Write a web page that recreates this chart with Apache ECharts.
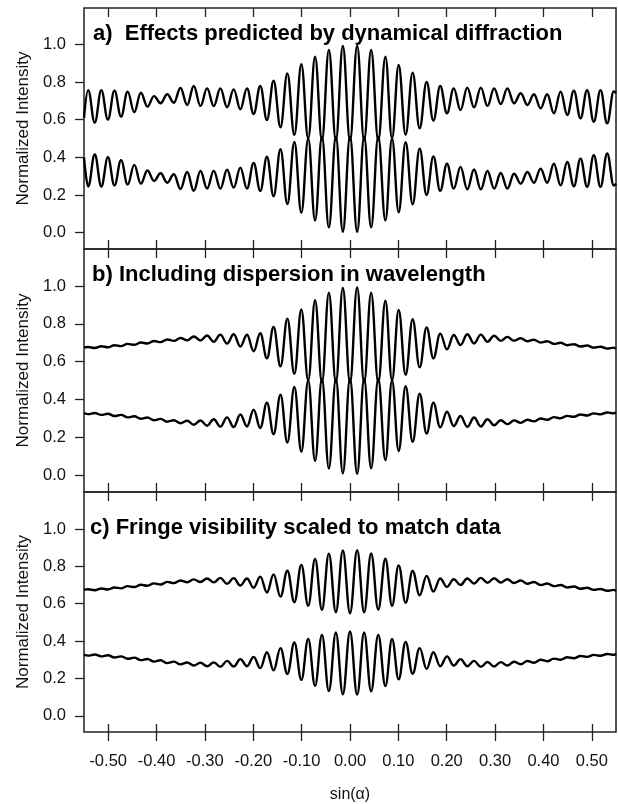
<!DOCTYPE html>
<html>
<head>
<meta charset="utf-8">
<script src="https://cdn.jsdelivr.net/npm/echarts@6/dist/echarts.min.js"></script>
<style>
html,body{margin:0;padding:0;background:#fff;}
#chart{width:618px;height:804px;}
</style>
</head>
<body>
<div id="chart"></div>
<script>
// Positions of the fringe extrema (peaks/troughs), sin(alpha)
const fringeX = [-0.55, -0.5414, -0.5278, -0.5142, -0.5006, -0.487, -0.4734, -0.4598, -0.4461, -0.4325,
  -0.4189, -0.4053, -0.3916, -0.378, -0.3642, -0.3505, -0.3367, -0.323, -0.3092, -0.2955,
  -0.2817, -0.268, -0.2542, -0.2405, -0.2267, -0.213, -0.1992, -0.1855, -0.1717, -0.158,
  -0.1437, -0.1295, -0.115, -0.1006, -0.0864, -0.0722, -0.058, -0.0437, -0.0292, -0.0148,
  0,
  0.0148, 0.0292, 0.0437, 0.0584, 0.0732, 0.0869, 0.1006, 0.115, 0.1295, 0.144,
  0.1584, 0.1724, 0.1865, 0.2005, 0.2145, 0.2285, 0.2425, 0.2565, 0.2705, 0.2842,
  0.298, 0.3117, 0.3254, 0.3392, 0.353, 0.3667, 0.3804, 0.3941, 0.4078, 0.4216,
  0.4355, 0.4492, 0.4629, 0.4766, 0.4903, 0.5041, 0.518, 0.5317, 0.5454, 0.55];

// a) Effects predicted by dynamical diffraction
const upperA = [0.61, 0.757, 0.584, 0.757, 0.60, 0.754, 0.616, 0.749, 0.64, 0.743,
  0.669, 0.725, 0.687, 0.735, 0.69, 0.768, 0.678, 0.779, 0.673, 0.766,
  0.672, 0.766, 0.666, 0.761, 0.655, 0.766, 0.63, 0.779, 0.598, 0.807,
  0.56, 0.846, 0.519, 0.894, 0.50, 0.934, 0.49, 0.97, 0.49, 0.991,
  0.49,
  0.991, 0.49, 0.97, 0.49, 0.934, 0.50, 0.89, 0.52, 0.85, 0.554,
  0.80, 0.595, 0.779, 0.634, 0.766, 0.651, 0.77, 0.665, 0.77, 0.673,
  0.766, 0.683, 0.766, 0.687, 0.74, 0.678, 0.735, 0.66, 0.735, 0.634,
  0.749, 0.625, 0.754, 0.607, 0.757, 0.589, 0.757, 0.58, 0.75, 0.74];
const lowerA = [0.40, 0.245, 0.415, 0.245, 0.40, 0.25, 0.385, 0.255, 0.36, 0.26,
  0.33, 0.275, 0.315, 0.265, 0.31, 0.232, 0.322, 0.222, 0.327, 0.234,
  0.328, 0.234, 0.334, 0.239, 0.345, 0.234, 0.37, 0.221, 0.403, 0.193,
  0.443, 0.152, 0.481, 0.105, 0.50, 0.064, 0.51, 0.028, 0.51, 0.005,
  0.51,
  0.005, 0.51, 0.028, 0.51, 0.064, 0.50, 0.108, 0.48, 0.15, 0.446,
  0.20, 0.405, 0.222, 0.366, 0.234, 0.349, 0.23, 0.335, 0.23, 0.327,
  0.234, 0.317, 0.234, 0.313, 0.26, 0.322, 0.265, 0.34, 0.265, 0.366,
  0.251, 0.375, 0.246, 0.393, 0.243, 0.411, 0.243, 0.42, 0.25, 0.26];

// b) Including dispersion in wavelength
const upperB = [0.675, 0.677, 0.672, 0.681, 0.676, 0.687, 0.682, 0.694, 0.689, 0.701,
  0.696, 0.709, 0.703, 0.717, 0.71, 0.725, 0.713, 0.733, 0.712, 0.738,
  0.705, 0.743, 0.695, 0.745, 0.68, 0.742, 0.655, 0.75, 0.617, 0.783,
  0.575, 0.827, 0.535, 0.876, 0.50, 0.925, 0.49, 0.965, 0.49, 0.99,
  0.49,
  0.993, 0.49, 0.965, 0.49, 0.922, 0.50, 0.873, 0.53, 0.824, 0.57,
  0.781, 0.617, 0.748, 0.665, 0.741, 0.688, 0.745, 0.696, 0.743, 0.705,
  0.737, 0.71, 0.731, 0.711, 0.724, 0.708, 0.716, 0.701, 0.708, 0.694,
  0.70, 0.687, 0.692, 0.68, 0.685, 0.674, 0.679, 0.669, 0.674, 0.667];
const lowerB = [0.328, 0.322, 0.328, 0.318, 0.324, 0.312, 0.318, 0.305, 0.311, 0.298,
  0.304, 0.29, 0.297, 0.282, 0.29, 0.274, 0.287, 0.266, 0.288, 0.261,
  0.295, 0.256, 0.305, 0.254, 0.32, 0.257, 0.345, 0.249, 0.383, 0.216,
  0.425, 0.172, 0.466, 0.123, 0.50, 0.074, 0.51, 0.034, 0.51, 0.009,
  0.51,
  0.007, 0.51, 0.035, 0.51, 0.078, 0.50, 0.127, 0.47, 0.176, 0.43,
  0.219, 0.383, 0.252, 0.335, 0.259, 0.312, 0.255, 0.304, 0.257, 0.295,
  0.263, 0.29, 0.269, 0.289, 0.276, 0.292, 0.284, 0.299, 0.292, 0.306,
  0.30, 0.313, 0.308, 0.32, 0.315, 0.326, 0.321, 0.331, 0.326, 0.333];

// c) Fringe visibility scaled to match data
const upperC = [0.675, 0.677, 0.672, 0.681, 0.676, 0.687, 0.682, 0.694, 0.689, 0.701,
  0.696, 0.709, 0.703, 0.717, 0.71, 0.724, 0.715, 0.73, 0.716, 0.735,
  0.714, 0.738, 0.706, 0.737, 0.697, 0.735, 0.685, 0.745, 0.66, 0.757,
  0.638, 0.776, 0.608, 0.808, 0.589, 0.84, 0.567, 0.868, 0.554, 0.885,
  0.549,
  0.887, 0.554, 0.869, 0.568, 0.841, 0.589, 0.805, 0.605, 0.775, 0.645,
  0.749, 0.665, 0.735, 0.69, 0.731, 0.70, 0.735, 0.708, 0.738, 0.712,
  0.736, 0.713, 0.731, 0.711, 0.724, 0.707, 0.716, 0.70, 0.708, 0.694,
  0.70, 0.687, 0.692, 0.68, 0.685, 0.674, 0.679, 0.669, 0.674, 0.667];
const lowerC = [0.327, 0.322, 0.328, 0.318, 0.324, 0.312, 0.318, 0.305, 0.311, 0.298,
  0.304, 0.29, 0.297, 0.282, 0.29, 0.275, 0.285, 0.269, 0.284, 0.265,
  0.286, 0.262, 0.294, 0.263, 0.303, 0.265, 0.315, 0.255, 0.34, 0.243,
  0.362, 0.224, 0.392, 0.192, 0.411, 0.16, 0.433, 0.132, 0.446, 0.115,
  0.451,
  0.113, 0.446, 0.131, 0.432, 0.159, 0.411, 0.195, 0.395, 0.225, 0.362,
  0.251, 0.34, 0.265, 0.318, 0.269, 0.303, 0.265, 0.294, 0.262, 0.288,
  0.264, 0.287, 0.269, 0.289, 0.276, 0.293, 0.284, 0.30, 0.292, 0.306,
  0.30, 0.313, 0.308, 0.32, 0.315, 0.326, 0.321, 0.331, 0.326, 0.333];

const yTicks = [0, 0.2, 0.4, 0.6, 0.8, 1.0];
const xTicks = [-0.5, -0.4, -0.3, -0.2, -0.1, 0, 0.1, 0.2, 0.3, 0.4, 0.5];
const panelTitles = ['a)  Effects predicted by dynamical diffraction',
  'b) Including dispersion in wavelength',
  'c) Fringe visibility scaled to match data'];
const yName = 'Normalized Intensity';
const xName = 'sin(\u03b1)';

const FONT = '"Liberation Sans", Arial, Helvetica, sans-serif';
const INK = '#111';

const panels = [
  {top: 8, height: 241, yMin: -0.087, yMax: 1.193, titleX: 93, titleY: 34, up: upperA, low: lowerA},
  {top: 249, height: 243, yMin: -0.09, yMax: 1.196, titleX: 92, titleY: 275, up: upperB, low: lowerB},
  {top: 492, height: 242, yMin: -0.087, yMax: 1.198, titleX: 90, titleY: 528, up: upperC, low: lowerC}
];

const grids = [], xAxes = [], yAxes = [], series = [], graphics = [];
const tickStyle = {color: '#222', width: 1.3};
const noLine = {show: false, onZero: false};

panels.forEach((p, i) => {
  grids.push({left: 84, top: p.top, width: 532, height: p.height, show: true,
    borderColor: '#222', borderWidth: 1.5, backgroundColor: 'transparent', containLabel: false});
  const isLast = i === panels.length - 1;
  const bottomIdx = xAxes.length;
  xAxes.push({type: 'value', gridIndex: i, position: 'bottom', min: -0.55, max: 0.55,
    axisLine: noLine, splitLine: {show: false},
    axisTick: {show: true, inside: false, length: 9, lineStyle: tickStyle, customValues: xTicks},
    axisLabel: {show: isLast, customValues: xTicks, formatter: v => v.toFixed(2), fontSize: 16.5,
      color: INK, fontFamily: FONT, margin: 21},
    name: isLast ? xName : '', nameLocation: 'middle', nameGap: 55,
    nameTextStyle: {fontSize: 16, color: INK, fontFamily: FONT}});
  xAxes.push({type: 'value', gridIndex: i, position: 'top', min: -0.55, max: 0.55,
    axisLine: noLine, splitLine: {show: false},
    axisTick: {show: true, inside: i === 0, length: 9, lineStyle: tickStyle, customValues: xTicks},
    axisLabel: {show: false}});
  if (isLast) {
    xAxes.push({type: 'value', gridIndex: i, position: 'bottom', min: -0.55, max: 0.55,
      axisLine: noLine, splitLine: {show: false},
      axisTick: {show: true, inside: true, length: 8, lineStyle: tickStyle, customValues: xTicks},
      axisLabel: {show: false}});
  }
  yAxes.push({type: 'value', gridIndex: i, position: 'left', min: p.yMin, max: p.yMax,
    axisLine: noLine, splitLine: {show: false},
    axisTick: {show: true, inside: false, length: 9, lineStyle: tickStyle, customValues: yTicks},
    axisLabel: {customValues: yTicks, formatter: v => v.toFixed(1), fontSize: 16.5, color: INK,
      fontFamily: FONT, margin: 18},
    name: yName, nameLocation: 'middle', nameRotate: 90, nameGap: 52,
    nameTextStyle: {fontSize: 17, color: INK, fontFamily: FONT}});
  [p.up, p.low].forEach(vals => {
    series.push({type: 'line', xAxisIndex: bottomIdx, yAxisIndex: i,
      data: fringeX.map((x, k) => [x, vals[k]]),
      showSymbol: false, smooth: 0.4, smoothMonotone: 'x', clip: true, animation: false,
      lineStyle: {color: '#000', width: 2.4}});
  });
  graphics.push({type: 'text', x: p.titleX, y: p.titleY,
    style: {text: panelTitles[i], fill: '#000', font: 'bold 22px ' + FONT,
      align: 'left', verticalAlign: 'middle'}});
});

const chart = echarts.init(document.getElementById('chart'), null, {renderer: 'canvas'});
chart.setOption({
  animation: false,
  backgroundColor: '#fff',
  grid: grids, xAxis: xAxes, yAxis: yAxes, series: series, graphic: graphics
});
</script>
</body>
</html>
